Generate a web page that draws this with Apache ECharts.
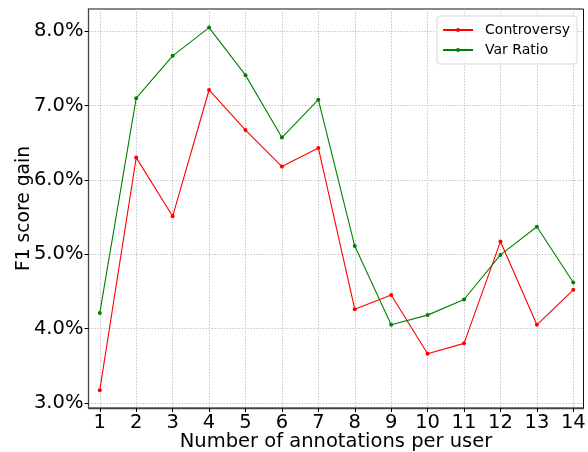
<!DOCTYPE html>
<html>
<head>
<meta charset="utf-8">
<script src="https://cdn.jsdelivr.net/npm/echarts@6/dist/echarts.min.js"></script>
<style>html,body{margin:0;padding:0;background:#fff}#c{width:588px;height:452px}</style>
</head>
<body>
<div id="c"></div>
<script>
const annotations = [1,2,3,4,5,6,7,8,9,10,11,12,13,14];
const controversy = [3.17,6.30,5.51,7.21,6.67,6.18,6.43,4.26,4.45,3.66,3.80,5.17,4.05,4.52];
const varRatio = [4.21,7.10,7.67,8.05,7.41,6.57,7.08,5.11,4.05,4.18,4.39,4.99,5.37,4.62];
const yTicks = [3,4,5,6,7,8];

const font = 'DejaVu Sans';
const chart = echarts.init(document.getElementById('c'), null, {renderer:'canvas'});
const gridLine = {show:true, lineStyle:{color:'#b8b8b8', width:0.8, type:[1.5,1.5]}};
chart.setOption({
  animation:false,
  backgroundColor:'#fff',
  grid:{left:88.5, right:4.5, top:9, bottom:44, show:true, borderColor:'#111', borderWidth:1,
        backgroundColor:'transparent', outerBoundsMode:'none', containLabel:false},
  legend:{
    orient:'vertical', right:11, top:16,
    data:['Controversy','Var Ratio'],
    itemWidth:30, itemHeight:5, itemGap:6,
    padding:[7,7,7,5],
    borderColor:'#d8d8d8', borderWidth:1, borderRadius:3,
    backgroundColor:'rgba(255,255,255,0.8)',
    textStyle:{fontFamily:font, fontSize:14, color:'#000', padding:[0,0,0,7]}
  },
  xAxis:{
    type:'value', min:0.69, max:14.28,
    name:'Number of annotations per user', nameLocation:'middle', nameGap:24, nameMoveOverlap:false,
    nameTextStyle:{fontFamily:font, fontSize:19.5, color:'#000'},
    axisLine:{show:true, onZero:false, lineStyle:{color:'#444', width:1.3}},
    axisTick:{show:true, length:4, lineStyle:{color:'#000'}, customValues:annotations},
    axisLabel:{fontFamily:font, fontSize:19.5, color:'#000', margin:5, customValues:annotations,
      formatter:v => String(v)},
    splitLine:Object.assign({customValues:annotations}, gridLine)
  },
  yAxis:{
    type:'value', min:2.93, max:8.30,
    name:'F1 score gain', nameLocation:'middle', nameGap:55, nameMoveOverlap:false,
    nameTextStyle:{fontFamily:font, fontSize:18.7, color:'#000'},
    axisLine:{show:true, onZero:false, lineStyle:{color:'#444', width:1.3}},
    axisTick:{show:true, length:4, lineStyle:{color:'#000'}, customValues:yTicks},
    axisLabel:{fontFamily:font, fontSize:19.5, color:'#000', margin:5, customValues:yTicks,
      padding:[5,0,0,0], formatter:v => v.toFixed(1)+'%'},
    splitLine:Object.assign({customValues:yTicks}, gridLine)
  },
  series:[
    {name:'Controversy', type:'line', data:annotations.map((a,i)=>[a,controversy[i]]),
     color:'#ff0000', symbol:'circle', symbolSize:4, showAllSymbol:true,
     lineStyle:{width:1.1, color:'#ff0000'}, itemStyle:{color:'#ff0000'}},
    {name:'Var Ratio', type:'line', data:annotations.map((a,i)=>[a,varRatio[i]]),
     color:'#008000', symbol:'circle', symbolSize:4, showAllSymbol:true,
     lineStyle:{width:1.1, color:'#008000'}, itemStyle:{color:'#008000'}}
  ]
});
</script>
</body>
</html>
